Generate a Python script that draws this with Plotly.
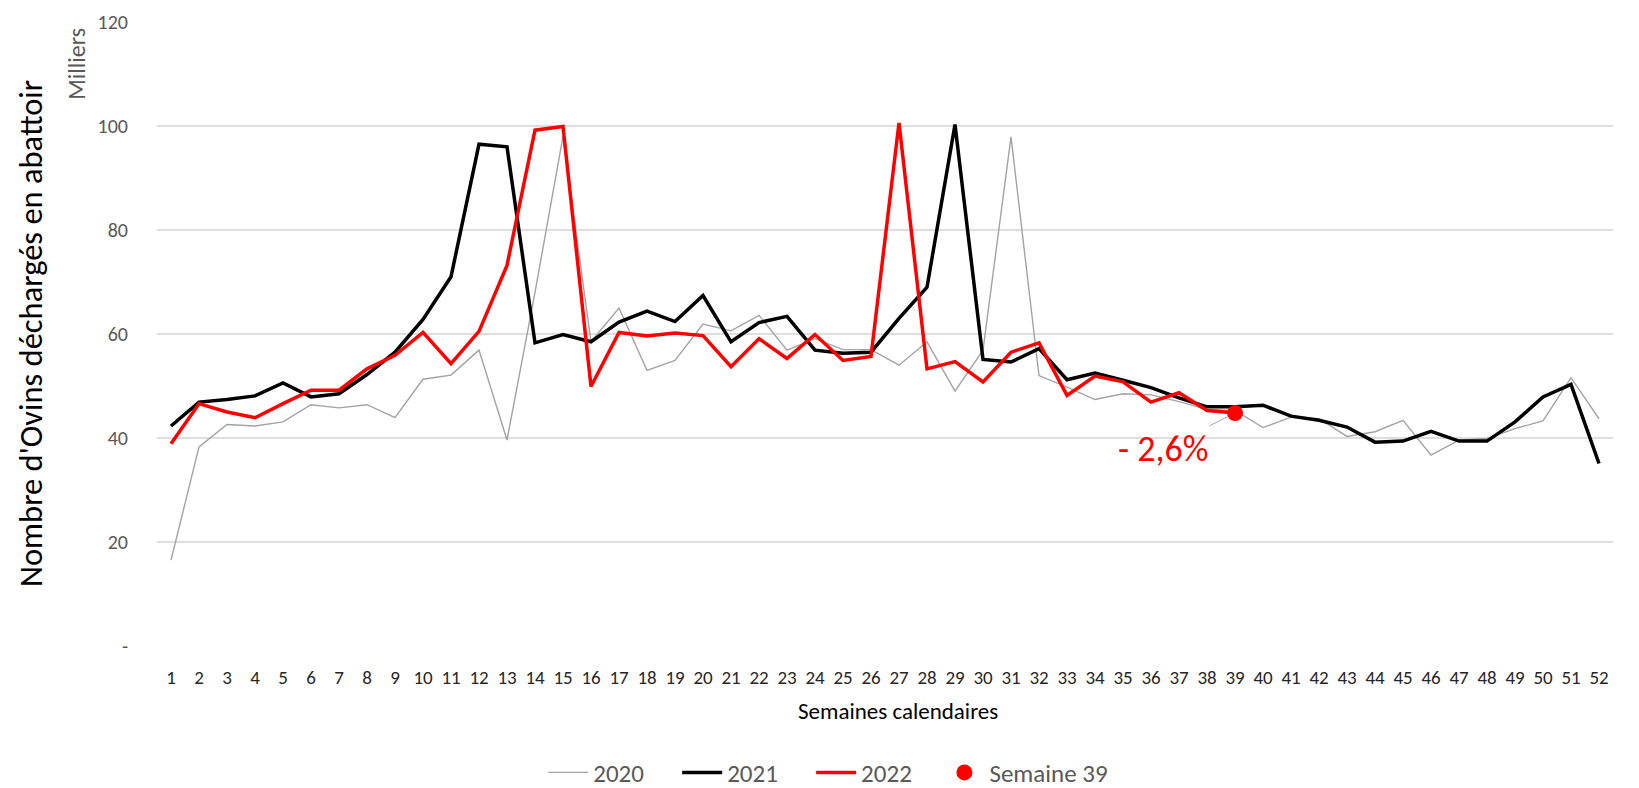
import plotly.graph_objects as go

weeks = list(range(1, 53))

y2020 = [16.5, 38.3, 42.6, 42.3, 43.1, 46.4, 45.8, 46.4, 43.9, 51.3, 52.1, 56.9, 39.6,
         68.0, 98.0, 58.5, 65.0, 53.0, 54.9, 61.9, 60.6, 63.6, 56.9, 59.1, 57.0, 57.0,
         54.0, 58.5, 49.0, 56.9, 97.9, 52.0, 49.8, 47.4, 48.5, 48.3, 47.0, 45.5, 45.3,
         42.0, 44.0, 43.7, 40.3, 41.2, 43.4, 36.7, 39.6, 39.9, 41.8, 43.3, 51.6, 43.7]

y2021 = [42.3, 46.9, 47.4, 48.1, 50.6, 47.9, 48.5, 52.2, 56.5, 62.8, 71.0, 96.5, 96.0,
         58.3, 59.9, 58.5, 62.3, 64.4, 62.4, 67.4, 58.5, 62.2, 63.4, 56.9, 56.3, 56.5,
         63.0, 69.0, 100.3, 55.1, 54.6, 57.2, 51.2, 52.5, 51.1, 49.7, 47.7, 46.0, 46.0,
         46.3, 44.2, 43.4, 42.1, 39.2, 39.4, 41.3, 39.4, 39.4, 43.1, 47.9, 50.3, 35.1]

y2022 = [38.9, 46.6, 45.0, 43.9, 46.6, 49.2, 49.2, 53.3, 55.9, 60.3, 54.3, 60.5, 73.2,
         99.2, 99.9, 49.9, 60.3, 59.6, 60.2, 59.7, 53.7, 59.1, 55.3, 59.9, 54.9, 55.7,
         100.6, 53.3, 54.7, 50.8, 56.5, 58.3, 48.2, 51.9, 50.8, 46.9, 48.7, 45.3, 44.8]

highlight_week = [39]
highlight_value = [44.8]
highlight_label = "- 2,6%"

ytick_vals = [0, 20, 40, 60, 80, 100, 120]
ytick_text = ["-", "20", "40", "60", "80", "100", "120"]

FONT = "Carlito, 'Liberation Sans Narrow', 'Liberation Sans', Arial, sans-serif"
NB = "\u00a0"

fig = go.Figure()
fig.add_trace(go.Scatter(x=weeks, y=y2020, mode="lines", name="2020" + NB * 5,
                         line=dict(color="#a3a3a3", width=1.4)))
fig.add_trace(go.Scatter(x=weeks, y=y2021, mode="lines", name="2021" + NB * 5,
                         line=dict(color="#000000", width=3.5)))
fig.add_trace(go.Scatter(x=weeks[:len(y2022)], y=y2022, mode="lines", name="2022" + NB * 4,
                         line=dict(color="#ff0000", width=3.5)))
fig.add_trace(go.Scatter(x=highlight_week, y=highlight_value, mode="markers", name="Semaine 39",
                         marker=dict(color="#ff0000", size=16)))

fig.add_annotation(x=highlight_week[0], y=highlight_value[0], text=highlight_label,
                   showarrow=True, arrowhead=0, arrowwidth=1, arrowcolor="#a6a6a6",
                   ax=-72, ay=36, standoff=8,
                   font=dict(family=FONT, size=36, color="#ff0000"))

fig.add_annotation(x=0, y=0.5, xref="paper", yref="paper", xshift=-126, xanchor="center",
                   yanchor="middle",
                   text="Nombre d'Ovins déchargés en abattoir", textangle=-90,
                   showarrow=False, font=dict(family=FONT, size=32.5, color="#000000"))
fig.add_annotation(x=0, y=0.933, xref="paper", yref="paper", xshift=-80, xanchor="center",
                   yanchor="middle",
                   text="Milliers", textangle=-90,
                   showarrow=False, font=dict(family=FONT, size=24, color="#595959"))
fig.add_annotation(x=0.509, y=-0.1046, xref="paper", yref="paper", xanchor="center",
                   yanchor="middle",
                   text="Semaines calendaires", showarrow=False,
                   font=dict(family=FONT, size=23, color="#000000"))

fig.update_xaxes(range=[0.5, 52.5], tickmode="array", tickvals=weeks,
                 ticktext=[str(w) for w in weeks], tickangle=0, automargin=False,
                 showgrid=False, zeroline=False, showline=False, ticks="",
                 ticklabelstandoff=18,
                 tickfont=dict(family=FONT, size=19, color="#262626"))
fig.update_yaxes(range=[0, 120], tickmode="array", tickvals=ytick_vals, ticktext=ytick_text,
                 showgrid=True, gridcolor="#dedede", gridwidth=1.5, zeroline=False,
                 showline=False, ticks="", ticklabelstandoff=28, automargin=False,
                 tickfont=dict(family=FONT, size=20, color="#595959"))

# The page body adds an 8px offset, so the figure is sized to fill the window exactly.
fig.update_layout(width=1631, height=780, plot_bgcolor="white", paper_bgcolor="white",
                  margin=dict(l=149, r=26, t=14, b=142, autoexpand=False),
                  showlegend=True,
                  legend=dict(orientation="h", x=0.461, xanchor="center", y=-0.203,
                              yanchor="middle", font=dict(family=FONT, size=25, color="#595959"),
                              itemwidth=40),
                  font=dict(family=FONT))

fig.write_html("out.html")
